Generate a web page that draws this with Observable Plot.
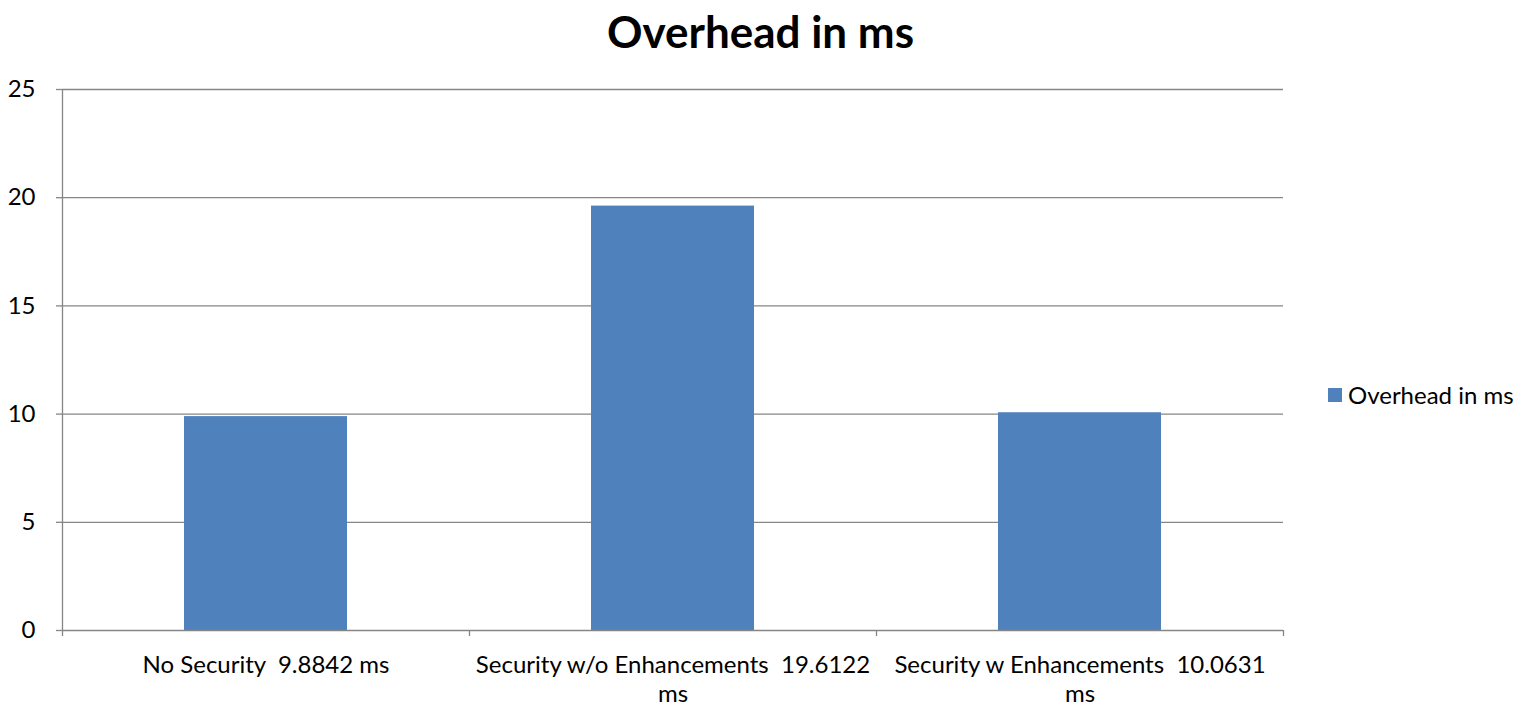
<!DOCTYPE html>
<html>
<head>
<meta charset="utf-8">
<script src="https://cdn.jsdelivr.net/npm/d3@7"></script>
<script src="https://cdn.jsdelivr.net/npm/@observablehq/plot@0.6"></script>
<style>
  html, body { margin: 0; padding: 0; background: #fff; }
  body { width: 1521px; height: 706px; position: relative; overflow: hidden; font-family: Lato, "Open Sans", sans-serif; }
  #title { position: absolute; left: 0; width: 1521px; top: 3px; line-height: 56px; text-align: center; font-weight: bold; font-size: 44px; color: #000; }
  #legend { position: absolute; left: 1328px; top: 380px; display: flex; align-items: center; font-size: 24px; line-height: 30px; color: #000; white-space: nowrap; }
  #legend .sw { width: 14px; height: 14px; background: #4F81BD; margin-right: 6px; }
  #chart { position: absolute; left: 0; top: 0; }
</style>
</head>
<body>
<div id="chart"></div>
<div id="title">Overhead in ms</div>
<div id="legend"><div class="sw"></div><span>Overhead in ms</span></div>
<script>
const categories = [
  "No Security  9.8842 ms",
  "Security w/o Enhancements  19.6122\nms",
  "Security w Enhancements  10.0631\nms"
];
const values = [9.8842, 19.6122, 10.0631];
const yTicks = [0, 5, 10, 15, 20, 25];
const seriesName = "Overhead in ms";

const data = categories.map((c, i) => ({category: c, value: values[i]}));

const width = 1521, height = 706;
const marginLeft = 62, marginRight = 238, marginTop = 89, marginBottom = 76;
const step = (width - marginLeft - marginRight) / categories.length;
const grey = "#868686";

const plot = Plot.plot({
  width, height, marginLeft, marginRight, marginTop, marginBottom,
  style: {fontFamily: "Lato, 'Open Sans', sans-serif", fontSize: "24px", color: "#000", background: "#fff", overflow: "visible"},
  x: {domain: categories, paddingInner: 0.6, paddingOuter: 0.3, label: null},
  y: {domain: [0, 25], ticks: yTicks, label: null},
  marks: [
    Plot.gridY(yTicks.filter(d => d > 0), {stroke: grey, strokeOpacity: 1, strokeWidth: 1.3}),
    Plot.barY(data, {x: "category", y: "value", fill: "#4F81BD"}),
    Plot.ruleY([0], {stroke: grey, strokeWidth: 1.3}),
    Plot.ruleX([0], {x: () => categories[0], y1: 0, y2: 25, dx: -step / 2, stroke: grey, strokeWidth: 1.3}),
    Plot.ruleX(categories, {x: d => d, y1: 0, y2: 0, insetBottom: -6, dx: -step / 2, stroke: grey, strokeWidth: 1.3}),
    Plot.ruleX([categories[categories.length - 1]], {x: d => d, y1: 0, y2: 0, insetBottom: -6, dx: step / 2, stroke: grey, strokeWidth: 1.3}),
    Plot.axisY({ticks: yTicks, tickSize: 6, tickPadding: 21, stroke: grey, strokeWidth: 1.3, fontSize: 24}),
    Plot.axisX({tickSize: 0, tickPadding: 22, fontSize: 24, lineHeight: 1.2})
  ]
});
document.getElementById("chart").appendChild(plot);
</script>
</body>
</html>
